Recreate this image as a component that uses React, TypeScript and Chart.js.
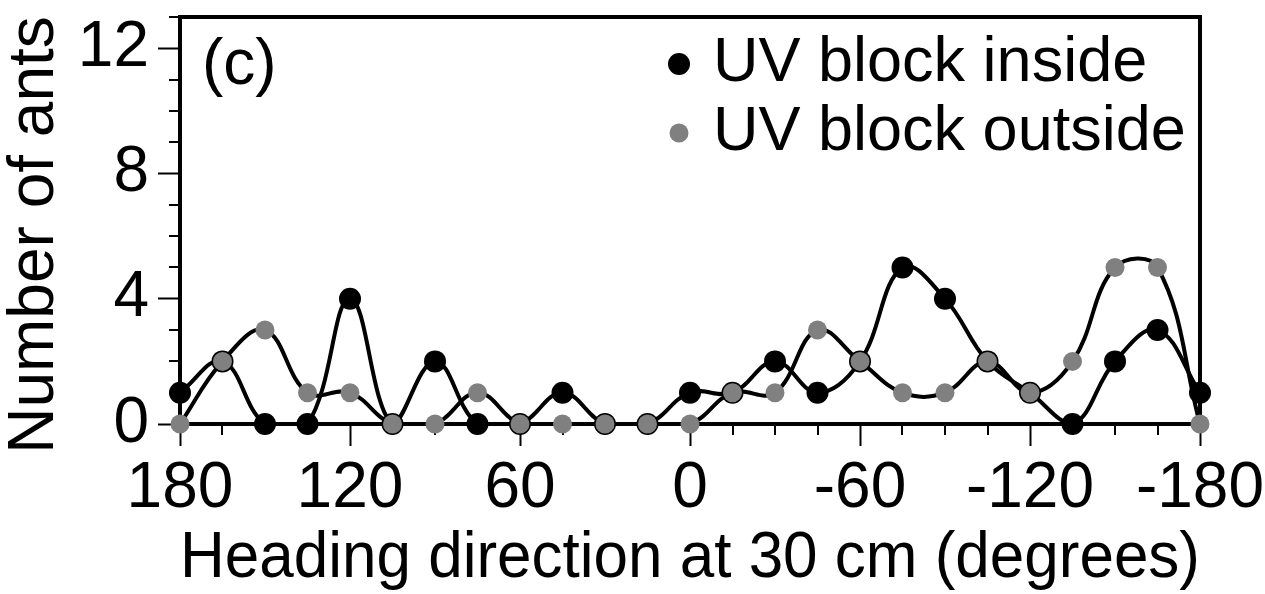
import React, { useEffect, useRef } from 'react';
import { Chart, registerables } from 'chart.js';

Chart.register(...registerables);

// Heading directions (degrees), sampled every 15°
const headings = [180, 165, 150, 135, 120, 105, 90, 75, 60, 45, 30, 15, 0, -15, -30, -45, -60, -75, -90, -105, -120, -135, -150, -165, -180];
// Number of ants per heading bin
const uvBlockInside = [1, 2, 0, 0, 4, 0, 2, 0, 0, 1, 0, 0, 1, 1, 2, 1, 2, 5, 4, 2, 1, 0, 2, 3, 1];
const uvBlockOutside = [0, 2, 3, 1, 1, 0, 0, 1, 0, 0, 0, 0, 0, 1, 1, 3, 2, 1, 1, 2, 1, 2, 5, 5, 0];

const seriesLabels = ['UV block inside', 'UV block outside'];
const seriesColors = ['#000000', '#808080'];
const panelLabel = '(c)';
const xTitle = 'Heading direction at 30 cm (degrees)';
const yTitle = 'Number of ants';

const xMajorStep = 60;
const xMinorStep = 15;
const yMajorStep = 4;
const yMinorStep = 1;
const yMax = 13;

const FONT = '"Liberation Sans", Arial, Helvetica, sans-serif';
const FONT_SIZE = 64;

const toPoints = (values: number[]) => headings.map((h, i) => ({ x: h, y: values[i] }));

// Frame, minor ticks (under the data), then panel label, legend and y title
const decorPlugin = {
  id: 'decor',
  beforeDatasetsDraw(chart: any) {
    const { ctx, chartArea: a, scales } = chart;
    const xs = scales.x;
    const ys = scales.y;
    ctx.save();
    ctx.strokeStyle = '#000';
    ctx.lineWidth = 4;
    ctx.beginPath();
    ctx.moveTo(a.left - 2, a.top);
    ctx.lineTo(a.right, a.top);
    ctx.lineTo(a.right, a.bottom + 2);
    ctx.stroke();

    ctx.lineWidth = 2;
    ctx.beginPath();
    for (let v = xs.min; v <= xs.max; v += xMinorStep) {
      if (v % xMajorStep === 0) continue;
      const px = Math.round(xs.getPixelForValue(v));
      ctx.moveTo(px, a.bottom);
      ctx.lineTo(px, a.bottom + 11);
    }
    for (let v = ys.min; v <= ys.max; v += yMinorStep) {
      if (v % yMajorStep === 0) continue;
      const py = Math.round(ys.getPixelForValue(v));
      ctx.moveTo(a.left - 11, py);
      ctx.lineTo(a.left, py);
    }
    ctx.stroke();
    ctx.restore();
  },
  afterDraw(chart: any) {
    const { ctx, chartArea: a } = chart;
    ctx.save();
    ctx.fillStyle = '#000';
    ctx.font = `${FONT_SIZE}px ${FONT}`;

    // panel label
    ctx.textAlign = 'left';
    ctx.textBaseline = 'alphabetic';
    ctx.fillText(panelLabel, a.left + 22, a.top + 67);

    // legend
    ctx.font = `63px ${FONT}`;
    const legendX = a.left + 499;
    const rows = [a.top + 47, a.top + 116];
    const radii = [11, 9.5];
    seriesLabels.forEach((label, i) => {
      ctx.fillStyle = seriesColors[i];
      ctx.beginPath();
      ctx.arc(legendX, rows[i], radii[i], 0, Math.PI * 2);
      ctx.fill();
      ctx.fillStyle = '#000';
      ctx.textBaseline = 'middle';
      ctx.fillText(label, legendX + 34, rows[i]);
    });

    // y axis title
    ctx.font = `${FONT_SIZE}px ${FONT}`;
    ctx.translate(35.5, (a.top + a.bottom) / 2 + 14.5);
    ctx.rotate(-Math.PI / 2);
    ctx.textAlign = 'center';
    ctx.textBaseline = 'middle';
    ctx.fillText(yTitle, 0, 0);
    ctx.restore();
  },
};

export default function App() {
  const canvasRef = useRef<HTMLCanvasElement | null>(null);

  useEffect(() => {
    if (!canvasRef.current) return;
    const tickFont = { size: FONT_SIZE, family: FONT };
    const chart = new Chart(canvasRef.current, {
      type: 'line',
      data: {
        datasets: [
          {
            label: seriesLabels[1],
            data: toPoints(uvBlockOutside),
            showLine: false,
            pointRadius: 9.5,
            pointBackgroundColor: seriesColors[1],
            pointBorderWidth: 0,
            clip: false,
          },
          {
            label: seriesLabels[0],
            data: toPoints(uvBlockInside),
            showLine: false,
            pointRadius: 11,
            pointBackgroundColor: seriesColors[0],
            pointBorderWidth: 0,
            clip: false,
          },
          {
            label: seriesLabels[1] + ' curve',
            data: toPoints(uvBlockOutside),
            borderColor: '#000',
            borderWidth: 4,
            pointRadius: 0,
            tension: 0.4,
            fill: false,
          },
          {
            label: seriesLabels[0] + ' curve',
            data: toPoints(uvBlockInside),
            borderColor: '#000',
            borderWidth: 4,
            pointRadius: 0,
            tension: 0.4,
            fill: false,
          },
        ],
      },
      options: {
        animation: false,
        responsive: true,
        maintainAspectRatio: false,
        events: [],
        layout: { padding: { top: 17, right: 65, bottom: 0, left: 0 } },
        plugins: {
          legend: { display: false },
          tooltip: { enabled: false },
        },
        scales: {
          x: {
            type: 'linear',
            min: -180,
            max: 180,
            reverse: true,
            afterFit: (s: any) => {
              s.height = 170;
              s.paddingLeft = 0;
              s.paddingRight = 0;
            },
            ticks: {
              stepSize: xMajorStep,
              autoSkip: false,
              maxRotation: 0,
              color: '#000',
              font: tickFont,
              padding: 5,
              callback: (v: any) => String(v),
            },
            grid: {
              display: true,
              drawOnChartArea: false,
              drawTicks: true,
              tickLength: 22,
              tickWidth: 2,
              tickColor: '#000',
            },
            border: { display: true, color: '#000', width: 4 },
            title: {
              display: true,
              text: xTitle,
              color: '#000',
              font: tickFont,
              padding: { top: 0, bottom: -4 },
            },
          },
          y: {
            type: 'linear',
            min: 0,
            max: yMax,
            afterFit: (s: any) => {
              s.width = 180;
              s.paddingTop = 0;
              s.paddingBottom = 0;
            },
            ticks: {
              stepSize: yMajorStep,
              includeBounds: false,
              color: '#000',
              font: tickFont,
              padding: 9,
              callback: (v: any) => String(v),
            },
            grid: {
              display: true,
              drawOnChartArea: false,
              drawTicks: true,
              tickLength: 22,
              tickWidth: 2,
              tickColor: '#000',
            },
            border: { display: true, color: '#000', width: 4 },
          },
        },
      },
      plugins: [decorPlugin],
    });
    return () => chart.destroy();
  }, []);

  return (
    <div style={{ position: 'fixed', left: 0, top: 0, width: 1265, height: 594, background: '#fff' }}>
      <canvas ref={canvasRef} />
    </div>
  );
}
